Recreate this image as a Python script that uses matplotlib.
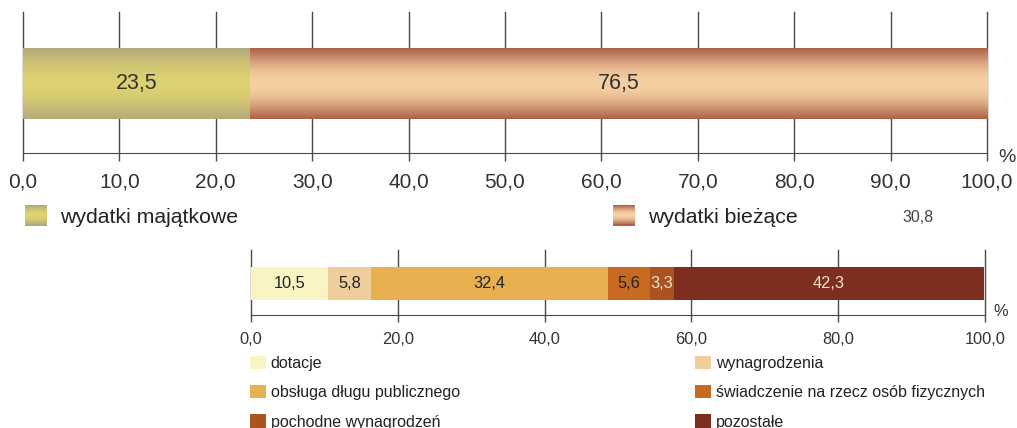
import numpy as np
import matplotlib
matplotlib.use("Agg")
import matplotlib.pyplot as plt
from matplotlib.colors import LinearSegmentedColormap, to_rgb
from matplotlib.patches import Rectangle
from matplotlib.legend_handler import HandlerBase

plt.rcParams['font.family'] = ['Liberation Sans', 'DejaVu Sans']

# ---- data ----
top_categories = ["wydatki majątkowe", "wydatki bieżące"]
top_values = [23.5, 76.5]
top_labels = ["23,5", "76,5"]
top_ticks = [0, 10, 20, 30, 40, 50, 60, 70, 80, 90, 100]
top_ticklabels = ["0,0", "10,0", "20,0", "30,0", "40,0", "50,0", "60,0", "70,0", "80,0", "90,0", "100,0"]

bot_categories = ["dotacje", "wynagrodzenia", "obsługa długu publicznego",
                  "świadczenie na rzecz osób fizycznych", "pochodne wynagrodzeń", "pozostałe"]
bot_values = [10.5, 5.8, 32.4, 5.6, 3.3, 42.3]
bot_labels = ["10,5", "5,8", "32,4", "5,6", "3,3", "42,3"]
bot_ticks = [0, 20, 40, 60, 80, 100]
bot_ticklabels = ["0,0", "20,0", "40,0", "60,0", "80,0", "100,0"]
stray_text = "30,8"

# ---- styles ----
top_grad = [("#b2aa7c", "#ddd170"), ("#ad6349", "#f7d0a2")]
bot_colors = ["#f8f3c2", "#eecf9b", "#e8b04e", "#c96a22", "#a9531f", "#7e2e1e"]
bot_textcolors = ["#222222", "#222222", "#222222", "#222222", "#f0e0d0", "#f0e0d0"]
txt = "#333333"
grid_c = "#4a4a4a"


def grad_colors(edge, center, n=64):
    e = np.array(to_rgb(edge)); c = np.array(to_rgb(center))
    t = np.linspace(0, 1, n)
    w = np.sin(np.pi * t) ** 1.0
    return [tuple(e + (c - e) * wi) for wi in w]


class GradHandler(HandlerBase):
    def __init__(self, edge, center):
        super().__init__()
        self.cols = grad_colors(edge, center, 20)

    def create_artists(self, legend, orig_handle, xdescent, ydescent, width, height, fontsize, trans):
        arts = []
        n = len(self.cols)
        for i, c in enumerate(self.cols):
            r = Rectangle((-xdescent, -ydescent + height * (n - 1 - i) / n), width, height / n + 0.3,
                          facecolor=c, edgecolor='none', transform=trans)
            arts.append(r)
        return arts


fig = plt.figure(figsize=(10.17, 4.28), dpi=100)
W, H = 1017, 428

def axrect(x0, x1, ytop, ybot):
    return [x0 / W, 1 - ybot / H, (x1 - x0) / W, (ybot - ytop) / H]

# ---- top chart ----
ax1 = fig.add_axes(axrect(23, 987, 12, 153))
ax1.set_xlim(0, 100)
ax1.set_ylim(0, 1)
left = 0
bars = []
for v in top_values:
    b = ax1.barh(0.49, v, left=left, height=0.5, color='none', edgecolor='none', zorder=2)
    bars.append(b[0])
    left += v
for b, (e, c), lab in zip(bars, top_grad, top_labels):
    x0, y0 = b.get_x(), b.get_y()
    w, h = b.get_width(), b.get_height()
    cmap = LinearSegmentedColormap.from_list("g", grad_colors(e, c))
    img = np.linspace(0, 1, 64).reshape(-1, 1)
    ax1.imshow(img, cmap=cmap, extent=[x0, x0 + w, y0, y0 + h], aspect='auto', zorder=2,
               interpolation='bilinear', origin='lower')
    ax1.text(x0 + w / 2, y0 + h / 2, lab, ha='center', va='center', fontsize=15.5, color=txt, zorder=3)
ax1.set_xlim(0, 100)
ax1.set_ylim(0, 1)
ax1.set_xticks(top_ticks)
ax1.set_xticklabels(top_ticklabels, fontsize=15, color=txt)
ax1.set_yticks([])
for s in ['top', 'right', 'left']:
    ax1.spines[s].set_visible(False)
ax1.spines['bottom'].set_color(grid_c)
ax1.tick_params(axis='x', length=6, width=1, color=grid_c, pad=8)
ax1.grid(axis='x', color=grid_c, linewidth=1, zorder=1)
for gl in ax1.get_xgridlines():
    gl.set_clip_on(False)
ax1.set_axisbelow(True)
fig.text(998 / W, 1 - 157 / H, "%", fontsize=14, color=txt, ha='left', va='center')

h1 = Rectangle((0, 0), 1, 1)
h2 = Rectangle((0, 0), 1, 1)
for h, lab, g, x in ((h1, top_categories[0], top_grad[0], 25), (h2, top_categories[1], top_grad[1], 613)):
    fig.legend([h], [lab], loc='center left', bbox_to_anchor=(x / W, 1 - 216 / H),
               frameon=False, fontsize=15.3, handlelength=1.05, handleheight=1.1, handletextpad=0.6,
               borderpad=0, borderaxespad=0,
               handler_map={h: GradHandler(*g)}, labelcolor='#222222')
fig.text(918 / W, 1 - 217 / H, stray_text, fontsize=11.5, color='#444444', ha='center', va='center')

# ---- bottom chart ----
ax2 = fig.add_axes(axrect(251, 985, 250, 315))
ax2.set_xlim(0, 100)
ax2.set_ylim(0, 1)
left = 0
for v, c, lab, tc in zip(bot_values, bot_colors, bot_labels, bot_textcolors):
    b = ax2.barh(0.485, v, left=left, height=0.5, color=c, edgecolor='none', zorder=2)
    ax2.text(left + v / 2, 0.485, lab, ha='center', va='center', fontsize=11.8, color=tc, zorder=3)
    left += v
ax2.set_xticks(bot_ticks)
ax2.set_xticklabels(bot_ticklabels, fontsize=11.8, color=txt)
ax2.set_yticks([])
for s in ['top', 'right', 'left']:
    ax2.spines[s].set_visible(False)
ax2.spines['bottom'].set_color(grid_c)
ax2.tick_params(axis='x', length=5, width=1, color=grid_c, pad=7)
ax2.grid(axis='x', color=grid_c, linewidth=1, zorder=1)
for gl in ax2.get_xgridlines():
    gl.set_clip_on(False)
ax2.set_axisbelow(True)
fig.text(993 / W, 1 - 311 / H, "%", fontsize=11.8, color=txt, ha='left', va='center')

left_idx = [0, 2, 4]
right_idx = [1, 3, 5]
for idx, x in ((left_idx, 250), (right_idx, 695)):
    handles = [Rectangle((0, 0), 1, 1, facecolor=bot_colors[i], edgecolor='none') for i in idx]
    fig.legend(handles, [bot_categories[i] for i in idx], loc='upper left',
               bbox_to_anchor=(x / W, 1 - 356 / H), frameon=False, fontsize=11.5,
               handlelength=1.0, handleheight=0.9, handletextpad=0.3, labelspacing=0.88,
               labelcolor='#222222', borderaxespad=0, borderpad=0)

fig.savefig("out.png", dpi=100)
